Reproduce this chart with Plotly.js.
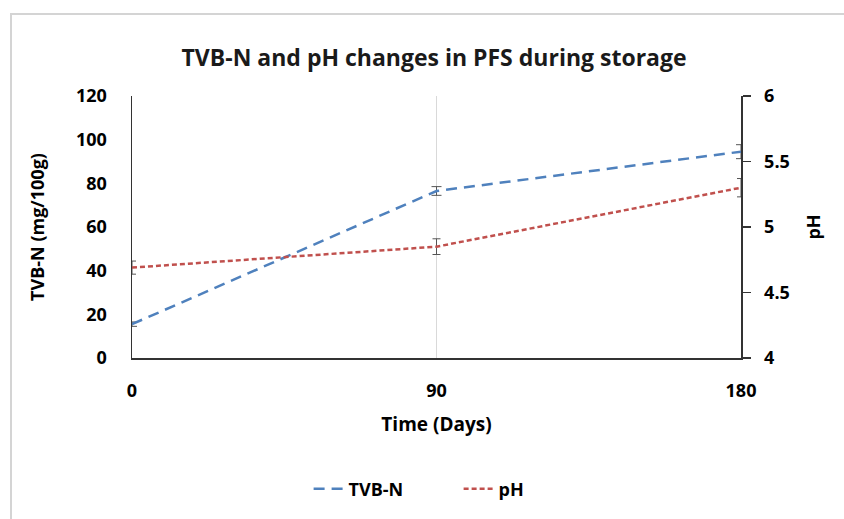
<!DOCTYPE html>
<html>
<head>
<meta charset="utf-8">
<script src="https://cdn.plot.ly/plotly-3.0.1.min.js"></script>
<style>
  html, body { margin: 0; padding: 0; background: #fff; }
  #frame { position: absolute; left: 10px; top: 13px; width: 900px; height: 600px;
           border-left: 2px solid #d4d4d4; border-top: 2px solid #d4d4d4; }
  #chart { position: absolute; left: 0; top: 0; width: 844px; height: 519px; }
</style>
</head>
<body>
<div id="frame"></div>
<div id="chart"></div>
<script>
const days = [0, 90, 180];
const tvbn = [15.5, 76.5, 94.5];
const tvbnErr = [1.0, 2.0, 3.2];
const ph = [4.69, 4.85, 5.30];
const phErr = [0.05, 0.06, 0.07];
const leftTicks = [0, 20, 40, 60, 80, 100, 120];
const rightTicks = [4, 4.5, 5, 5.5, 6];

const font = "Open Sans, Noto Sans, sans-serif";
const b = v => '<b>' + v + '</b>';

const traces = [
  {
    x: days, y: tvbn, name: b('TVB-N'), type: 'scatter', mode: 'lines',
    line: { color: '#4F81BD', width: 2.5, dash: '11px,7px' },
    error_y: { type: 'data', array: tvbnErr, visible: true, color: '#555555', thickness: 1, width: 5 },
    yaxis: 'y'
  },
  {
    x: days, y: ph, name: b('pH'), type: 'scatter', mode: 'lines',
    line: { color: '#C0504D', width: 2.5, dash: '5px,3px' },
    error_y: { type: 'data', array: phErr, visible: true, color: '#555555', thickness: 1, width: 4 },
    yaxis: 'y2'
  }
];

const layout = {
  width: 844, height: 519,
  paper_bgcolor: 'rgba(0,0,0,0)', plot_bgcolor: 'rgba(0,0,0,0)',
  margin: { l: 132, r: 103, t: 96, b: 161 },
  font: { family: font, color: '#000' },
  title: { text: b('TVB-N and pH changes in PFS during storage'), font: { size: 23, color: '#1a1a1a' },
           xref: 'paper', x: 0.496, xanchor: 'center', y: 0.888, yanchor: 'middle' },
  xaxis: {
    range: [0, 180], tickvals: days, ticktext: days.map(b),
    showgrid: true, gridcolor: '#d9d9d9', gridwidth: 1,
    showline: true, linecolor: '#333', linewidth: 1.5,
    ticks: '', ticklabelstandoff: 16, tickfont: { size: 18 },
    zeroline: false,
    title: { text: b('Time (Days)'), font: { size: 19 }, standoff: 16 }
  },
  yaxis: {
    range: [0, 120], tickvals: leftTicks, ticktext: leftTicks.map(b),
    showgrid: false, showline: true, linecolor: '#333', linewidth: 1.5,
    ticks: '', ticklabelstandoff: 20, tickfont: { size: 18 }, zeroline: false,
    title: { text: b('TVB-N (mg/100g)'), font: { size: 18 }, standoff: 26 }
  },
  yaxis2: {
    range: [4, 6], overlaying: 'y', side: 'right',
    tickvals: rightTicks, ticktext: rightTicks.map(b),
    showgrid: false, showline: true, linecolor: '#333', linewidth: 1.5,
    ticks: 'outside', ticklen: 8, tickcolor: '#333', tickwidth: 1.5,
    ticklabelstandoff: 10, tickfont: { size: 18 }, zeroline: false,
    title: { text: b('pH'), font: { size: 18 }, standoff: 18 }
  },
  showlegend: true,
  legend: { orientation: 'h', xref: 'paper', x: 0.29, xanchor: 'left', y: -0.5, yanchor: 'middle',
            font: { size: 18 }, bgcolor: 'rgba(0,0,0,0)', entrywidth: 105, entrywidthmode: 'pixels' }
};

Plotly.newPlot('chart', traces, layout, { displayModeBar: false, staticPlot: true });
</script>
</body>
</html>
